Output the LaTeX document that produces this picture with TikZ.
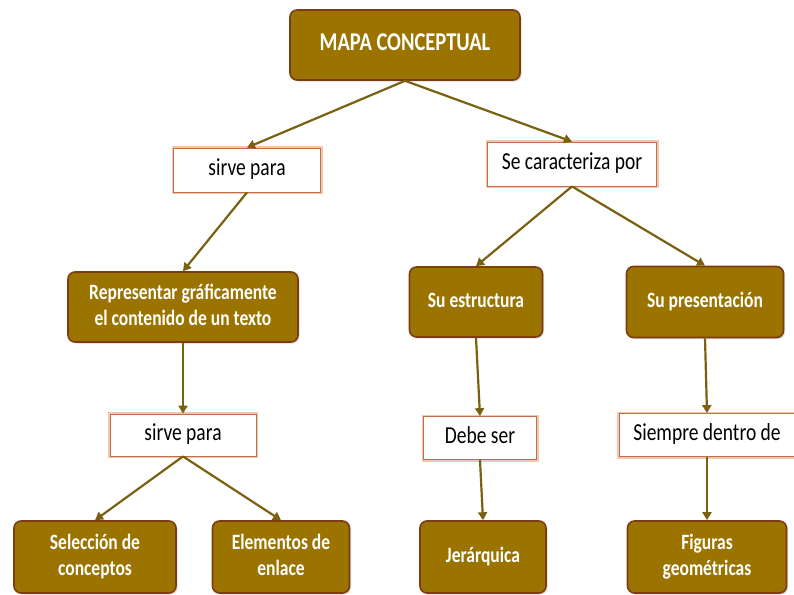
\documentclass[tikz,border=0pt]{standalone}
\usepackage{fontspec}
\usepackage{graphicx}
\setmainfont{Carlito}
\usetikzlibrary{positioning,arrows.meta,shadows}
\definecolor{ocre}{RGB}{155,116,0}
\definecolor{borde}{RGB}{125,60,20}
\definecolor{flechacol}{RGB}{122,96,16}
\definecolor{naranja}{RGB}{225,130,85}
\newcommand{\estirar}[1]{\scalebox{1}[1.25]{\begin{tabular}{@{}c@{}}#1\end{tabular}}}
\begin{document}
\begin{tikzpicture}[
    x=1pt, y=-1pt,
    concepto/.style={draw=borde, line width=1.6pt, fill=ocre, rounded corners=7pt,
      text=white, font=\fontsize{17.5}{21}\selectfont\bfseries, align=center, inner sep=0pt,
      drop shadow={shadow xshift=1.5pt, shadow yshift=-1.5pt, opacity=0.3}},
    enlace/.style={draw=naranja!85!black, line width=0.8pt, fill=white,
      font=\fontsize{19.5}{22}\selectfont, inner sep=0pt,
      preaction={draw=naranja!45, line width=4pt}},
    flecha/.style={draw=flechacol, line width=2.2pt, -{Triangle[length=8pt,width=9pt]}}
  ]
\useasboundingbox (0,0) rectangle (794,594);
\node[concepto, minimum width=230, minimum height=70, font=\fontsize{20.5}{24}\selectfont\bfseries] (mapa) at (405,45) {\estirar{MAPA CONCEPTUAL}};
\node[enlace, minimum width=147, minimum height=44] (sirve1) at (247,170) {\estirar{sirve para}};
\node[enlace, minimum width=169, minimum height=44] (carac) at (572,164) {\estirar{Se caracteriza por}};

\node[concepto, minimum width=230, minimum height=70] (repres) at (183,307) {\estirar{Representar gráficamente\\el contenido de un texto}};
\node[concepto, minimum width=133, minimum height=70] (estruct) at (476,302) {\estirar{Su estructura}};
\node[concepto, minimum width=157, minimum height=71] (present) at (705,302) {\estirar{Su presentación}};

\node[enlace, minimum width=146, minimum height=42] (sirve2) at (183,435) {\estirar{sirve para}};
\node[enlace, minimum width=113, minimum height=43] (debe) at (480,438) {\estirar{Debe ser}};
\node[enlace, minimum width=176, minimum height=43] (siempre) at (707,435) {\estirar{Siempre dentro de}};

\node[concepto, minimum width=162, minimum height=72] (selec) at (95,557) {\estirar{Selección de\\conceptos}};
\node[concepto, minimum width=137, minimum height=72] (elem) at (281,557) {\estirar{Elementos de\\enlace}};
\node[concepto, minimum width=126, minimum height=72] (jerar) at (483,557) {\estirar{Jerárquica}};
\node[concepto, minimum width=159, minimum height=72] (figuras) at (707,557) {\estirar{Figuras\\geométricas}};

\draw[flecha] (mapa.south) -- (sirve1.north);
\draw[flecha] (mapa.south) -- (carac.north);
\draw[flecha] (sirve1.south) -- (repres.north);
\draw[flecha] (carac.south) -- (estruct.north);
\draw[flecha] (carac.south) -- (present.north);
\draw[flecha] (repres.south) -- (sirve2.north);
\draw[flecha] (estruct.south) -- (debe.north);
\draw[flecha] (present.south) -- (siempre.north);
\draw[flecha] (sirve2.south) -- (selec.north);
\draw[flecha] (sirve2.south) -- (elem.north);
\draw[flecha] (debe.south) -- (jerar.north);
\draw[flecha] (siempre.south) -- (figuras.north);
\end{tikzpicture}
\end{document}
